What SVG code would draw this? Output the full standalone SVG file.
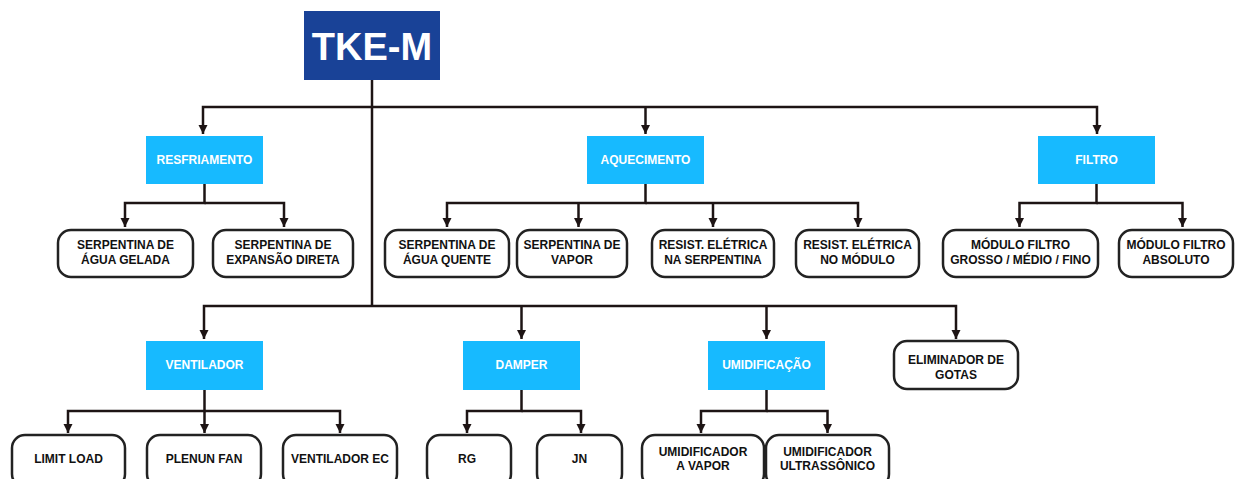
<svg xmlns="http://www.w3.org/2000/svg" width="1235" height="479" viewBox="0 0 1235 479">
<style>
.root{fill:#194297}
.hdr{fill:#17baff}
.leaf{fill:#fff;stroke:#222;stroke-width:2.5}
.t{font-family:"Liberation Sans",Arial,sans-serif;font-weight:bold;font-size:12px;text-anchor:middle}
.tw{fill:#fff}
.tb{fill:#111}
.c{fill:none;stroke:#1d1414;stroke-width:2.5}
</style>
<defs>
<marker id="ah" markerUnits="userSpaceOnUse" markerWidth="10" markerHeight="10" refX="9" refY="5" orient="auto">
<path d="M0,0.5 L9,5 L0,9.5 z" fill="#1d1414"/>
</marker>
</defs>
<rect width="1235" height="479" fill="#fff"/>
<g id="connectors">
<path class="c" d="M372,80 V306"/>
<path class="c" d="M372,107 H203 V134" marker-end="url(#ah)"/>
<path class="c" d="M372,107 H1097 V134" marker-end="url(#ah)"/>
<path class="c" d="M645.5,107 V134" marker-end="url(#ah)"/>
<path class="c" d="M372,306 H204 V339" marker-end="url(#ah)"/>
<path class="c" d="M372,306 H956 V339" marker-end="url(#ah)"/>
<path class="c" d="M521.5,306 V339" marker-end="url(#ah)"/>
<path class="c" d="M766.5,306 V339" marker-end="url(#ah)"/>
<path class="c" d="M204.5,184 V203 H125 V227" marker-end="url(#ah)"/>
<path class="c" d="M204.5,203 H284 V227" marker-end="url(#ah)"/>
<path class="c" d="M645.5,184 V203 H447 V227" marker-end="url(#ah)"/>
<path class="c" d="M645.5,203 H858 V227" marker-end="url(#ah)"/>
<path class="c" d="M578.5,203 V227" marker-end="url(#ah)"/>
<path class="c" d="M713,203 V227" marker-end="url(#ah)"/>
<path class="c" d="M1096.5,184 V203 H1019.5 V227" marker-end="url(#ah)"/>
<path class="c" d="M1096.5,203 H1182.5 V227" marker-end="url(#ah)"/>
<path class="c" d="M204.5,390 V411 H68 V433" marker-end="url(#ah)"/>
<path class="c" d="M204.5,411 H340 V433" marker-end="url(#ah)"/>
<path class="c" d="M204.5,411 V433" marker-end="url(#ah)"/>
<path class="c" d="M521.5,390 V411 H467 V433" marker-end="url(#ah)"/>
<path class="c" d="M521.5,411 H581 V433" marker-end="url(#ah)"/>
<path class="c" d="M766.5,390 V411 H701 V433" marker-end="url(#ah)"/>
<path class="c" d="M766.5,411 H827.5 V433" marker-end="url(#ah)"/>
</g>
<g id="tke-m">
<rect class="root" x="304" y="11" width="136" height="69"/>
<text x="372" y="60" font-family="Liberation Sans,Arial,sans-serif" font-weight="bold" font-size="38" fill="#fff" text-anchor="middle">TKE-M</text>
</g>
<g id="resfriamento"><rect class="hdr" x="146" y="136" width="117" height="48"/><text class="t tw" x="204.5" y="164">RESFRIAMENTO</text></g>
<g id="aquecimento"><rect class="hdr" x="587" y="136" width="117" height="48"/><text class="t tw" x="645.5" y="164">AQUECIMENTO</text></g>
<g id="filtro"><rect class="hdr" x="1038" y="136" width="117" height="48"/><text class="t tw" x="1096.5" y="164">FILTRO</text></g>
<g id="ventilador"><rect class="hdr" x="146" y="341" width="117" height="49"/><text class="t tw" x="204.5" y="369">VENTILADOR</text></g>
<g id="damper"><rect class="hdr" x="463" y="341" width="117" height="49"/><text class="t tw" x="521.5" y="369">DAMPER</text></g>
<g id="umidificacao"><rect class="hdr" x="708" y="341" width="117" height="49"/><text class="t tw" x="766.5" y="369">UMIDIFICAÇÃO</text></g>
<g id="agua-gelada"><rect class="leaf" x="58" y="230" width="135" height="47" rx="13"/><text class="t tb" x="125.5" y="249">SERPENTINA DE</text><text class="t tb" x="125.5" y="264">ÁGUA GELADA</text></g>
<g id="expansao-direta"><rect class="leaf" x="213" y="230" width="140" height="47" rx="13"/><text class="t tb" x="283" y="249">SERPENTINA DE</text><text class="t tb" x="283" y="264">EXPANSÃO DIRETA</text></g>
<g id="agua-quente"><rect class="leaf" x="385" y="230" width="124" height="47" rx="13"/><text class="t tb" x="447" y="249">SERPENTINA DE</text><text class="t tb" x="447" y="264">ÁGUA QUENTE</text></g>
<g id="vapor"><rect class="leaf" x="517" y="230" width="110" height="47" rx="13"/><text class="t tb" x="572" y="249">SERPENTINA DE</text><text class="t tb" x="572" y="264">VAPOR</text></g>
<g id="resist-serpentina"><rect class="leaf" x="652" y="230" width="122" height="47" rx="13"/><text class="t tb" x="713" y="249">RESIST. ELÉTRICA</text><text class="t tb" x="713" y="264">NA SERPENTINA</text></g>
<g id="resist-modulo"><rect class="leaf" x="796" y="230" width="123" height="47" rx="13"/><text class="t tb" x="857.5" y="249">RESIST. ELÉTRICA</text><text class="t tb" x="857.5" y="264">NO MÓDULO</text></g>
<g id="filtro-gmf"><rect class="leaf" x="943" y="230" width="155" height="47" rx="13"/><text class="t tb" x="1020.5" y="249">MÓDULO FILTRO</text><text class="t tb" x="1020.5" y="264">GROSSO / MÉDIO / FINO</text></g>
<g id="filtro-absoluto"><rect class="leaf" x="1119" y="230" width="114" height="47" rx="13"/><text class="t tb" x="1176" y="249">MÓDULO FILTRO</text><text class="t tb" x="1176" y="264">ABSOLUTO</text></g>
<g id="eliminador"><rect class="leaf" x="894" y="341" width="124" height="48" rx="13"/><text class="t tb" x="956" y="364">ELIMINADOR DE</text><text class="t tb" x="956" y="379">GOTAS</text></g>
<g id="limit-load"><rect class="leaf" x="12" y="435" width="113" height="52" rx="13"/><text class="t tb" x="68.5" y="463">LIMIT LOAD</text></g>
<g id="plenun-fan"><rect class="leaf" x="147" y="435" width="114" height="52" rx="13"/><text class="t tb" x="204" y="463">PLENUN FAN</text></g>
<g id="ventilador-ec"><rect class="leaf" x="283" y="435" width="114" height="52" rx="13"/><text class="t tb" x="340" y="463">VENTILADOR EC</text></g>
<g id="rg"><rect class="leaf" x="427" y="435" width="84" height="52" rx="13"/><text class="t tb" x="467" y="463">RG</text></g>
<g id="jn"><rect class="leaf" x="537" y="435" width="85" height="52" rx="13"/><text class="t tb" x="579.5" y="463">JN</text></g>
<g id="umid-vapor"><rect class="leaf" x="642" y="435" width="122" height="52" rx="13"/><text class="t tb" x="703" y="456">UMIDIFICADOR</text><text class="t tb" x="703" y="470">A VAPOR</text></g>
<g id="umid-ultrassonico"><rect class="leaf" x="766" y="435" width="123" height="52" rx="13"/><text class="t tb" x="827.5" y="456">UMIDIFICADOR</text><text class="t tb" x="827.5" y="470">ULTRASSÔNICO</text></g>
</svg>
